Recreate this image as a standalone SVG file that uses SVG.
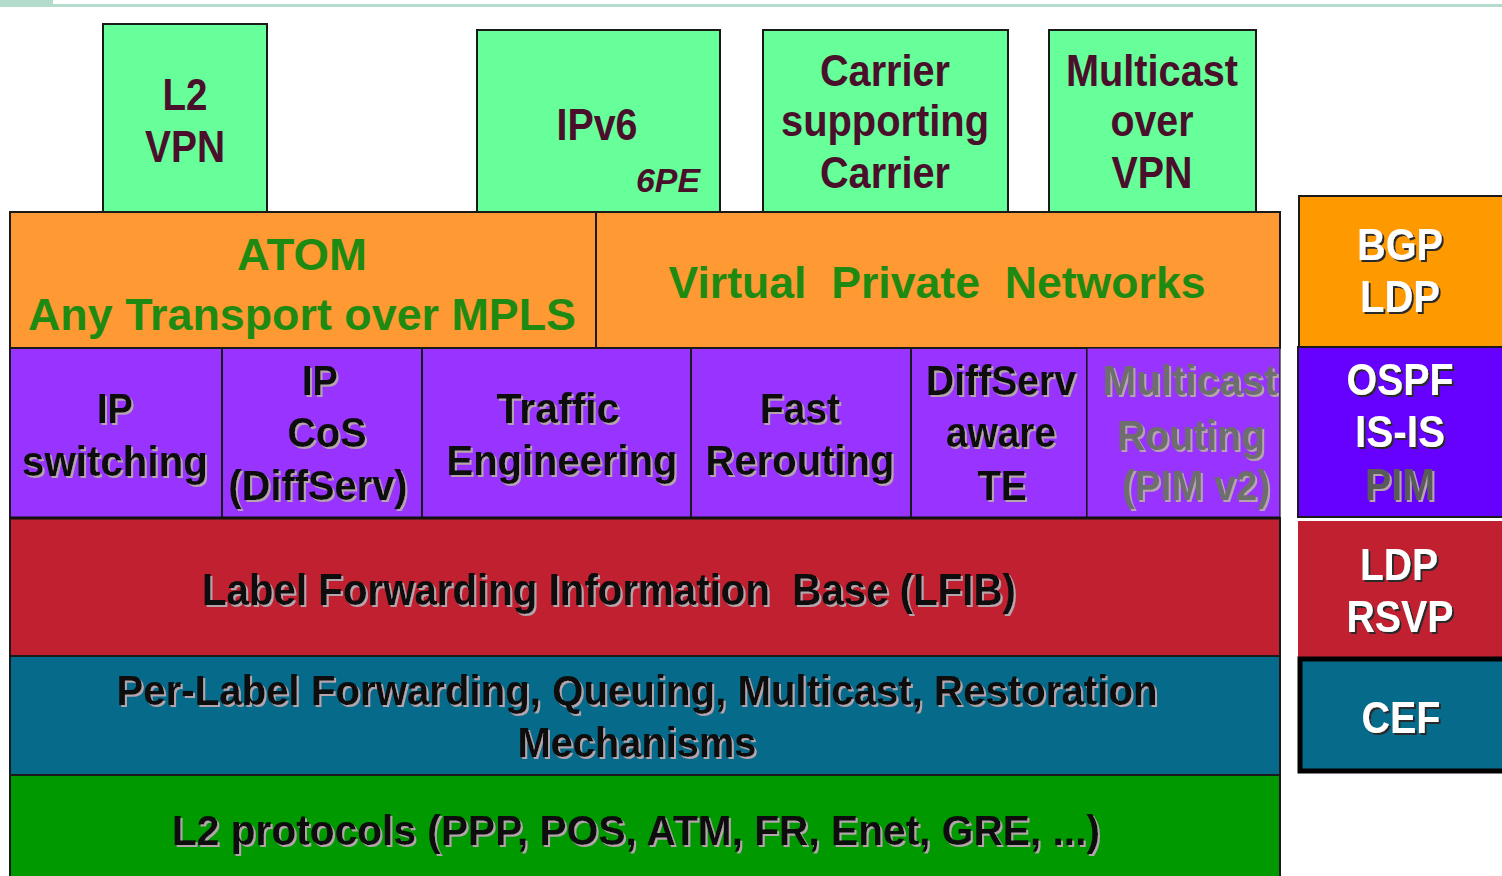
<svg xmlns="http://www.w3.org/2000/svg" width="1502" height="876" viewBox="0 0 1502 876">
  <defs>
    <filter id="shLight" x="-5%" y="-20%" width="110%" height="140%">
      <feDropShadow dx="2" dy="2" stdDeviation="0.4" flood-color="#b4a4ac" flood-opacity="1"/>
    </filter>
    <filter id="shDark" x="-10%" y="-20%" width="120%" height="140%">
      <feDropShadow dx="2" dy="2" stdDeviation="0.4" flood-color="#2a2a2a" flood-opacity="1"/>
    </filter>
    <style>
      text { font-family: "Liberation Sans", Arial, sans-serif; font-weight: bold; text-anchor: middle; white-space: pre; }
      .box { stroke: #1a1a1a; stroke-width: 2; }
      .app { fill: #66ff99; }
      .app-t { fill: #4a0f2a; font-size: 44px; }
      .orange { fill: #ff9933; }
      .vpn-t { fill: #1e8a12; font-size: 45px; }
      .purple { fill: #9933ff; }
      .dark-t { fill: #0a0a0a; filter: url(#shLight); }
      .gray-t { fill: #6e6e6e; filter: url(#shLight); }
      .red { fill: #c02030; }
      .blue { fill: #066a8a; }
      .green { fill: #009900; }
      .row-t { font-size: 43px; }
      .side-t { fill: #ffffff; font-size: 44px; filter: url(#shDark); }
      .side-g { fill: #5a5a5a; font-size: 44px; filter: url(#shLight); }
    </style>
  </defs>

  <rect width="1502" height="876" fill="#ffffff"/>

  <!-- title strip -->
  <g id="title-strip" fill="#b4dccd">
    <rect x="0" y="0" width="53" height="7"/>
    <rect x="0" y="4" width="1502" height="3"/>
  </g>

  <!-- applications on top of the VPN layer -->
  <g id="l2vpn">
    <rect class="box app" x="103" y="24" width="164" height="189"/>
    <text class="app-t" x="185" y="110" textLength="45" lengthAdjust="spacingAndGlyphs">L2</text>
    <text class="app-t" x="185" y="162" textLength="80" lengthAdjust="spacingAndGlyphs">VPN</text>
  </g>
  <g id="ipv6">
    <rect class="box app" x="477" y="30" width="243" height="182"/>
    <text class="app-t" x="597" y="140" textLength="81" lengthAdjust="spacingAndGlyphs">IPv6</text>
    <text class="app-t" x="668" y="192" style="font-size:34px;font-style:italic" textLength="64" lengthAdjust="spacingAndGlyphs">6PE</text>
  </g>
  <g id="csc">
    <rect class="box app" x="763" y="30" width="245" height="182"/>
    <text class="app-t" x="885" y="86" textLength="130" lengthAdjust="spacingAndGlyphs">Carrier</text>
    <text class="app-t" x="885" y="136" textLength="208" lengthAdjust="spacingAndGlyphs">supporting</text>
    <text class="app-t" x="885" y="188" textLength="130" lengthAdjust="spacingAndGlyphs">Carrier</text>
  </g>
  <g id="mvpn">
    <rect class="box app" x="1049" y="30" width="207" height="182"/>
    <text class="app-t" x="1152" y="86" textLength="172" lengthAdjust="spacingAndGlyphs">Multicast</text>
    <text class="app-t" x="1152" y="136" textLength="83" lengthAdjust="spacingAndGlyphs">over</text>
    <text class="app-t" x="1152" y="188" textLength="81" lengthAdjust="spacingAndGlyphs">VPN</text>
  </g>

  <!-- transport / VPN layer -->
  <g id="atom">
    <rect class="box orange" x="10" y="212" width="586" height="136"/>
    <text class="vpn-t" x="302" y="270" textLength="130" lengthAdjust="spacingAndGlyphs">ATOM</text>
    <text class="vpn-t" x="302" y="330" textLength="548" lengthAdjust="spacingAndGlyphs">Any Transport over MPLS</text>
  </g>
  <g id="vpns">
    <rect class="box orange" x="596" y="212" width="684" height="136"/>
    <text class="vpn-t" x="937" y="298" textLength="537" lengthAdjust="spacingAndGlyphs" xml:space="preserve">Virtual  Private  Networks</text>
  </g>

  <!-- control plane services -->
  <g id="ip-switching">
    <rect class="box purple" x="10" y="348" width="212" height="170"/>
    <text class="dark-t row-t" x="115" y="423" textLength="36" lengthAdjust="spacingAndGlyphs">IP</text>
    <text class="dark-t row-t" x="115" y="476" textLength="186" lengthAdjust="spacingAndGlyphs">switching</text>
  </g>
  <g id="ip-cos">
    <rect class="box purple" x="222" y="348" width="200" height="170"/>
    <text class="dark-t row-t" x="320" y="395" textLength="36" lengthAdjust="spacingAndGlyphs">IP</text>
    <text class="dark-t row-t" x="327" y="447" textLength="79" lengthAdjust="spacingAndGlyphs">CoS</text>
    <text class="dark-t row-t" x="318" y="500" textLength="179" lengthAdjust="spacingAndGlyphs">(DiffServ)</text>
  </g>
  <g id="traffic-engineering">
    <rect class="box purple" x="422" y="348" width="269" height="170"/>
    <text class="dark-t row-t" x="558" y="423" textLength="123" lengthAdjust="spacingAndGlyphs">Traffic</text>
    <text class="dark-t row-t" x="562" y="475" textLength="231" lengthAdjust="spacingAndGlyphs">Engineering</text>
  </g>
  <g id="fast-reroute">
    <rect class="box purple" x="691" y="348" width="220" height="170"/>
    <text class="dark-t row-t" x="800" y="423" textLength="80" lengthAdjust="spacingAndGlyphs">Fast</text>
    <text class="dark-t row-t" x="800" y="475" textLength="189" lengthAdjust="spacingAndGlyphs">Rerouting</text>
  </g>
  <g id="ds-te">
    <rect class="box purple" x="911" y="348" width="176" height="170"/>
    <text class="dark-t row-t" x="1001" y="395" textLength="150" lengthAdjust="spacingAndGlyphs">DiffServ</text>
    <text class="dark-t row-t" x="1001" y="447" textLength="110" lengthAdjust="spacingAndGlyphs">aware</text>
    <text class="dark-t row-t" x="1002" y="500" textLength="49" lengthAdjust="spacingAndGlyphs">TE</text>
  </g>
  <g id="mcast-routing">
    <rect class="purple" x="1087" y="348" width="193" height="170" stroke="#1a1a1a" stroke-width="1.2"/>
    <text class="gray-t row-t" x="1190" y="395" textLength="175" lengthAdjust="spacingAndGlyphs">Multicast</text>
    <text class="gray-t row-t" x="1191" y="450" textLength="148" lengthAdjust="spacingAndGlyphs">Routing</text>
    <text class="gray-t row-t" x="1196" y="500" textLength="148" lengthAdjust="spacingAndGlyphs">(PIM v2)</text>
  </g>

  <!-- forwarding plane -->
  <g id="lfib">
    <rect class="box red" x="10" y="518" width="1270" height="138"/>
    <line x1="10" y1="518" x2="1280" y2="518" stroke="#111111" stroke-width="3"/>
    <text class="dark-t" x="609" y="605" style="font-size:44px" textLength="814" lengthAdjust="spacingAndGlyphs" xml:space="preserve">Label Forwarding Information  Base (LFIB)</text>
  </g>
  <g id="per-label">
    <rect class="box blue" x="10" y="656" width="1270" height="119"/>
    <text class="dark-t" x="637" y="705" style="font-size:42px" textLength="1041" lengthAdjust="spacingAndGlyphs">Per-Label Forwarding, Queuing, Multicast, Restoration</text>
    <text class="dark-t" x="637" y="757" style="font-size:42px" textLength="239" lengthAdjust="spacingAndGlyphs">Mechanisms</text>
  </g>
  <g id="l2-protocols">
    <rect class="box green" x="10" y="775" width="1270" height="110"/>
    <text class="dark-t" x="636" y="845" style="font-size:42px" textLength="928" lengthAdjust="spacingAndGlyphs">L2 protocols (PPP, POS, ATM, FR, Enet, GRE, ...)</text>
  </g>

  <!-- protocols column -->
  <g id="bgp-ldp">
    <rect class="box" fill="#ff9900" x="1299" y="196" width="210" height="151"/>
    <text class="side-t" x="1400" y="260" textLength="86" lengthAdjust="spacingAndGlyphs">BGP</text>
    <text class="side-t" x="1400" y="312" textLength="80" lengthAdjust="spacingAndGlyphs">LDP</text>
  </g>
  <g id="igp">
    <rect class="box" fill="#6600ff" x="1298" y="347" width="211" height="170"/>
    <text class="side-t" x="1400" y="395" textLength="107" lengthAdjust="spacingAndGlyphs">OSPF</text>
    <text class="side-t" x="1400" y="447" textLength="90" lengthAdjust="spacingAndGlyphs">IS-IS</text>
    <text class="side-g" x="1400" y="500" textLength="70" lengthAdjust="spacingAndGlyphs">PIM</text>
  </g>
  <g id="label-dist">
    <rect fill="#c02030" x="1298" y="521" width="210" height="137"/>
    <text class="side-t" x="1399" y="580" textLength="78" lengthAdjust="spacingAndGlyphs">LDP</text>
    <text class="side-t" x="1400" y="632" textLength="107" lengthAdjust="spacingAndGlyphs">RSVP</text>
  </g>
  <g id="cef">
    <rect fill="#066a8a" stroke="#000000" stroke-width="5" x="1300" y="659" width="210" height="112"/>
    <text class="side-t" x="1401" y="733" textLength="79" lengthAdjust="spacingAndGlyphs">CEF</text>
  </g>
</svg>
